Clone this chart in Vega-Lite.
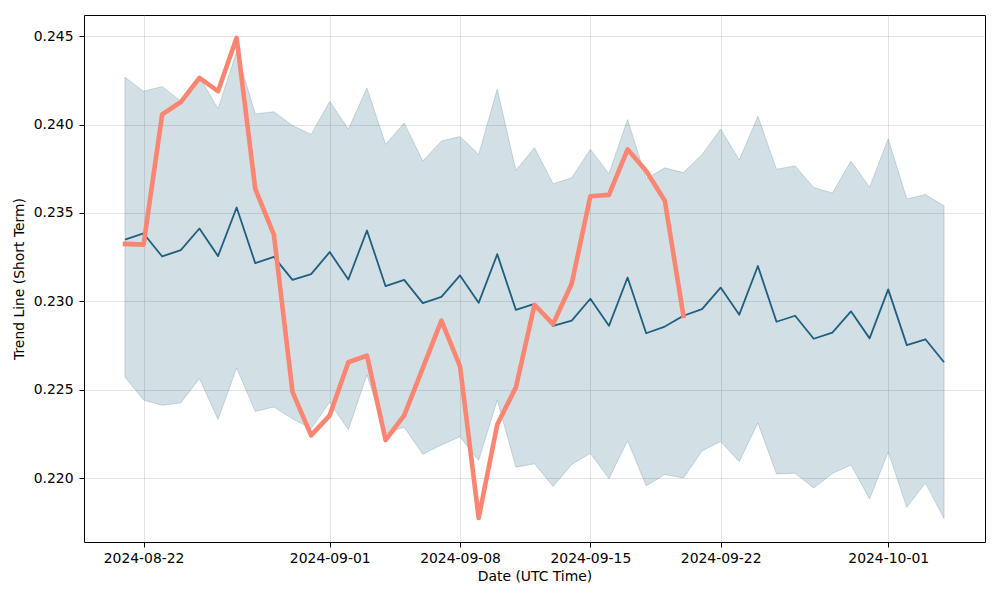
{
  "$schema": "https://vega.github.io/schema/vega-lite/v6.json",
  "width": 901,
  "height": 527,
  "autosize": {"type": "none"},
  "padding": {"left": 84, "top": 15, "right": 15, "bottom": 58},
  "background": "white",
  "config": {
    "view": {"stroke": "black", "strokeWidth": 1},
    "font": "DejaVu Sans",
    "axis": {
      "domain": false,
      "tickColor": "black",
      "tickSize": 5,
      "tickWidth": 1,
      "labelColor": "black",
      "labelFont": "DejaVu Sans",
      "labelFontSize": 13.9,
      "titleFont": "DejaVu Sans",
      "titleFontSize": 13.9,
      "titleFontWeight": "normal",
      "titleColor": "black",
      "gridColor": "#b0b0b0",
      "gridOpacity": 0.35,
      "gridWidth": 1
    }
  },
  "data": {
    "values": [
      {"date": "2024-08-21", "trend": 0.23349, "upper": 0.24267, "lower": 0.22572, "price": 0.23325},
      {"date": "2024-08-22", "trend": 0.23384, "upper": 0.24188, "lower": 0.22442, "price": 0.23321},
      {"date": "2024-08-23", "trend": 0.23254, "upper": 0.24215, "lower": 0.22413, "price": 0.24057},
      {"date": "2024-08-24", "trend": 0.23290, "upper": 0.24132, "lower": 0.22426, "price": 0.24127},
      {"date": "2024-08-25", "trend": 0.23412, "upper": 0.24271, "lower": 0.22564, "price": 0.24264},
      {"date": "2024-08-26", "trend": 0.23256, "upper": 0.24088, "lower": 0.22333, "price": 0.24188},
      {"date": "2024-08-27", "trend": 0.23531, "upper": 0.24413, "lower": 0.22623, "price": 0.24490},
      {"date": "2024-08-28", "trend": 0.23216, "upper": 0.24060, "lower": 0.22378, "price": 0.23636},
      {"date": "2024-08-29", "trend": 0.23252, "upper": 0.24072, "lower": 0.22403, "price": 0.23378},
      {"date": "2024-08-30", "trend": 0.23122, "upper": 0.23994, "lower": 0.22336, "price": 0.22489},
      {"date": "2024-08-31", "trend": 0.23154, "upper": 0.23944, "lower": 0.22281, "price": 0.22243},
      {"date": "2024-09-01", "trend": 0.23279, "upper": 0.24131, "lower": 0.22430, "price": 0.22356},
      {"date": "2024-09-02", "trend": 0.23124, "upper": 0.23974, "lower": 0.22275, "price": 0.22656},
      {"date": "2024-09-03", "trend": 0.23401, "upper": 0.24206, "lower": 0.22585, "price": 0.22694},
      {"date": "2024-09-04", "trend": 0.23086, "upper": 0.23888, "lower": 0.22254, "price": 0.22216},
      {"date": "2024-09-05", "trend": 0.23122, "upper": 0.24009, "lower": 0.22289, "price": 0.22356},
      {"date": "2024-09-06", "trend": 0.22990, "upper": 0.23793, "lower": 0.22136, "price": 0.22623},
      {"date": "2024-09-07", "trend": 0.23026, "upper": 0.23907, "lower": 0.22189, "price": 0.22891},
      {"date": "2024-09-08", "trend": 0.23147, "upper": 0.23932, "lower": 0.22235, "price": 0.22633},
      {"date": "2024-09-09", "trend": 0.22992, "upper": 0.23831, "lower": 0.22101, "price": 0.21776},
      {"date": "2024-09-10", "trend": 0.23267, "upper": 0.24200, "lower": 0.22442, "price": 0.22304},
      {"date": "2024-09-11", "trend": 0.22952, "upper": 0.23741, "lower": 0.22063, "price": 0.22514},
      {"date": "2024-09-12", "trend": 0.22986, "upper": 0.23869, "lower": 0.22082, "price": 0.22981},
      {"date": "2024-09-13", "trend": 0.22862, "upper": 0.23665, "lower": 0.21954, "price": 0.22872},
      {"date": "2024-09-14", "trend": 0.22891, "upper": 0.23699, "lower": 0.22078, "price": 0.23101},
      {"date": "2024-09-15", "trend": 0.23015, "upper": 0.23860, "lower": 0.22141, "price": 0.23594},
      {"date": "2024-09-16", "trend": 0.22862, "upper": 0.23722, "lower": 0.21998, "price": 0.23602},
      {"date": "2024-09-17", "trend": 0.23135, "upper": 0.24028, "lower": 0.22212, "price": 0.23860},
      {"date": "2024-09-18", "trend": 0.22820, "upper": 0.23693, "lower": 0.21958, "price": 0.23737},
      {"date": "2024-09-19", "trend": 0.22858, "upper": 0.23755, "lower": 0.22021, "price": 0.23569},
      {"date": "2024-09-20", "trend": 0.22919, "upper": 0.23728, "lower": 0.22002, "price": 0.22919},
      {"date": "2024-09-21", "trend": 0.22956, "upper": 0.23831, "lower": 0.22155},
      {"date": "2024-09-22", "trend": 0.23078, "upper": 0.23974, "lower": 0.22208},
      {"date": "2024-09-23", "trend": 0.22925, "upper": 0.23799, "lower": 0.22094},
      {"date": "2024-09-24", "trend": 0.23200, "upper": 0.24047, "lower": 0.22313},
      {"date": "2024-09-25", "trend": 0.22885, "upper": 0.23747, "lower": 0.22025},
      {"date": "2024-09-26", "trend": 0.22919, "upper": 0.23766, "lower": 0.22029},
      {"date": "2024-09-27", "trend": 0.22789, "upper": 0.23644, "lower": 0.21945},
      {"date": "2024-09-28", "trend": 0.22824, "upper": 0.23613, "lower": 0.22027},
      {"date": "2024-09-29", "trend": 0.22944, "upper": 0.23793, "lower": 0.22075},
      {"date": "2024-09-30", "trend": 0.22791, "upper": 0.23646, "lower": 0.21883},
      {"date": "2024-10-01", "trend": 0.23068, "upper": 0.23919, "lower": 0.22149},
      {"date": "2024-10-02", "trend": 0.22753, "upper": 0.23579, "lower": 0.21836},
      {"date": "2024-10-03", "trend": 0.22786, "upper": 0.23604, "lower": 0.21973},
      {"date": "2024-10-04", "trend": 0.22656, "upper": 0.23541, "lower": 0.21773}
    ]
  },
  "encoding": {
    "x": {
      "field": "date",
      "type": "temporal",
      "title": "Date (UTC Time)",
      "scale": {
        "type": "utc",
        "domain": [
          {"year": 2024, "month": 8, "date": 18, "hours": 19, "minutes": 12, "utc": true},
          {"year": 2024, "month": 10, "date": 6, "hours": 4, "minutes": 48, "utc": true}
        ],
        "nice": false
      },
      "axis": {
        "values": [
          {"year": 2024, "month": 8, "date": 22, "utc": true},
          {"year": 2024, "month": 9, "date": 1, "utc": true},
          {"year": 2024, "month": 9, "date": 8, "utc": true},
          {"year": 2024, "month": 9, "date": 15, "utc": true},
          {"year": 2024, "month": 9, "date": 22, "utc": true},
          {"year": 2024, "month": 10, "date": 1, "utc": true}
        ],
        "format": "%Y-%m-%d",
        "labelPadding": 4,
        "titlePadding": 5,
        "labelFlush": false,
        "labelOverlap": false
      }
    }
  },
  "layer": [
    {
      "mark": {"type": "area", "color": "#1f5f7f", "fillOpacity": 0.2, "stroke": "#1f5f7f", "strokeOpacity": 0.2, "strokeWidth": 1},
      "encoding": {
        "y": {
          "field": "upper",
          "type": "quantitative",
          "title": "Trend Line (Short Term)",
          "scale": {"domain": [0.2164, 0.24619], "nice": false, "zero": false},
          "axis": {"values": [0.220, 0.225, 0.230, 0.235, 0.240, 0.245], "format": ".3f", "labelPadding": 6, "titlePadding": 7}
        },
        "y2": {"field": "lower"}
      }
    },
    {
      "mark": {"type": "line", "color": "#1f5f7f", "strokeWidth": 1.8, "strokeJoin": "round"},
      "encoding": {"y": {"field": "trend", "type": "quantitative"}}
    },
    {
      "mark": {"type": "line", "color": "#fa8571", "strokeWidth": 4.6, "strokeJoin": "round", "strokeCap": "square"},
      "encoding": {"y": {"field": "price", "type": "quantitative"}}
    }
  ]
}
